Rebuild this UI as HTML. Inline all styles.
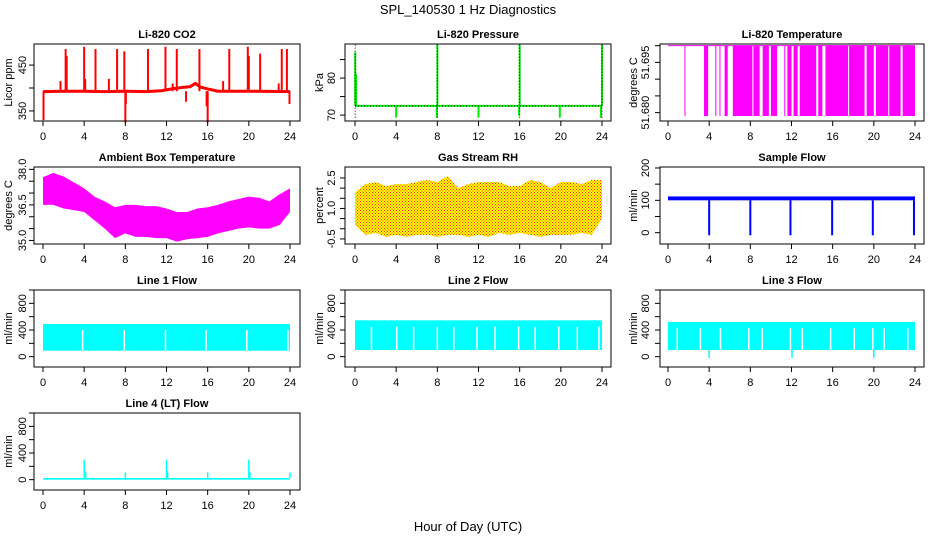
<!DOCTYPE html>
<html><head><meta charset="utf-8"><style>
body{margin:0;background:#fff}
svg{display:block;font-family:"Liberation Sans",Arial,sans-serif}
</style></head><body>
<svg id="c" width="936" height="540" viewBox="0 0 936 540" xmlns="http://www.w3.org/2000/svg">
<defs>
<pattern id="rh" width="3" height="3" patternUnits="userSpaceOnUse"><rect width="3" height="3" fill="#ffff00"/><rect x="0" y="0" width="1" height="1" fill="#ff2020"/><rect x="1.5" y="1.5" width="1" height="1" fill="#ff2020"/></pattern>
</defs>
<text x="468" y="14" text-anchor="middle" font-size="13">SPL_140530  1 Hz Diagnostics</text>
<text x="468" y="531" text-anchor="middle" font-size="13">Hour of Day (UTC)</text>
</svg>
<script>
// ---- data ----
const hours = [0,1,2,3,4,5,6,7,8,9,10,11,12,13,14,15,16,17,18,19,20,21,22,23,24];
const xTicks = [0,4,8,12,16,20,24];
// CO2
const co2BaseT = [0,2,4,6,8,10,11.5,12.5,13.5,14.3,14.8,15.3,16,17,20,24];
const co2BaseV = [392,393,393,392,393,392,394,398,401,403,410,402,398,393,393,392];
const co2SpikeT = [0.05,1.7,2.2,2.3,4.0,4.1,5.1,6.4,7.2,7.9,8.0,8.05,10.2,11.9,12.6,13.0,13.9,15.2,15.9,16.0,17.5,18.1,19.9,20.0,21.1,22.9,23.2,23.7,23.95];
const co2SpikeV = [330,415,485,470,490,420,485,420,485,480,325,365,485,490,410,485,370,485,360,325,415,485,490,470,475,410,485,485,365];
// Pressure
const presBase = 72.5;
const presSpikeT = [0.02,0.1,4.0,7.95,8.0,12.0,15.95,16.0,19.9,23.9,24.0];
const presSpikeV = [87,81,69.3,69.3,89,69.3,69.8,89,69.3,69.3,89];
// Li-820 temperature bar segments [start,end] in hours
const ltSegStart = [1.6,3.5,4.6,5.0,5.5,6.3,8.3,9.2,10.0,11.3,11.6,12.2,12.8,14.6,15.3,17.6,19.3,20.2,21.5,22.8];
const ltSegEnd   = [1.65,3.9,4.7,5.05,5.8,8.2,8.9,9.8,10.6,11.4,12.0,12.6,14.4,15.0,17.5,19.1,20.0,21.4,22.6,24.0];
// Ambient box temperature envelope
const ambUpper = [37.67,37.85,37.7,37.45,37.2,36.85,36.65,36.4,36.5,36.5,36.45,36.45,36.35,36.2,36.2,36.35,36.4,36.5,36.65,36.75,36.85,36.8,36.65,36.95,37.2];
const ambLower = [36.5,36.5,36.35,36.28,36.2,35.85,35.5,35.1,35.3,35.15,35.15,35.1,35.1,34.95,35.05,35.1,35.15,35.3,35.4,35.5,35.55,35.5,35.5,35.65,36.2];
// RH envelope
const rhUpper = [1.8,2.2,2.3,2.1,2.2,2.2,2.3,2.4,2.3,2.6,2.0,2.2,2.3,2.3,2.3,2.1,2.1,2.4,2.3,2.0,2.3,2.3,2.2,2.4,2.4];
const rhLower = [0.2,-0.3,-0.2,-0.4,-0.3,-0.4,-0.3,-0.3,-0.4,-0.3,-0.3,-0.4,-0.3,-0.4,-0.2,-0.3,-0.2,-0.3,-0.4,-0.3,-0.3,-0.3,-0.2,-0.3,0.5];
// Sample flow
const sfLow = 100, sfHigh = 112;
const sfDipT = [4.0,8.0,11.9,15.95,19.9,23.9];
const sfDipV = [-8,-8,-8,-8,-8,-8];
// Line flows
const l1Low = 90, l1High = 490;
const l1GapT = [3.85,7.9,11.9,15.85,19.8,23.8];
const l2Low = 100, l2High = 545;
const l2GapT = [1.6,4.06,5.7,8.0,9.6,11.85,13.6,15.9,17.5,19.8,21.6,23.7];
const l3Low = 100, l3High = 520;
const l3GapT = [0.9,3.15,5.1,7.85,9.15,11.9,13.05,15.8,18.1,19.9,21.0,23.3];
const l3DipT = [4.0,12.05,20.0];
const l3DipV = [-20,-20,-20];
const l4Low = 0, l4High = 25;
const l4SpikeT = [4.0,4.15,8.0,12.0,12.1,16.0,20.0,20.1,24.0];
const l4SpikeV = [300,120,110,300,130,110,300,120,110];

// ---- layout ----
const svg = document.getElementById('c');
const NS = 'http://www.w3.org/2000/svg';
const cols = [{L:34,R:300,x0:43,x24:290,lab:22,tit:8},{L:345,R:611,x0:355,x24:602,lab:331,tit:319},{L:660,R:924,x0:668,x24:915,lab:645,tit:633}];
const rows = [44,167,290,413];
const H = 77;
function mk(tag, attrs, parent){const e=document.createElementNS(NS,tag);for(const k in attrs)e.setAttribute(k,attrs[k]);(parent||svg).appendChild(e);return e;}

function panel(ci, ri, title, ylab, ymin, ymax, ticks, labels, name){
  const c = cols[ci], top = rows[ri], bot = top+H;
  const g = mk('g',{});
  
  
  const xs = h => c.x0 + (c.x24-c.x0)*h/24;
  const ys = v => bot - (v-ymin)/(ymax-ymin)*H;
  const t = mk('text',{x:(c.L+c.R)/2,y:top-6,'text-anchor':'middle','font-size':11,'font-weight':'bold'},g);
  t.textContent = title;
  
  
  const yt = mk('text',{x:0,y:0,'text-anchor':'middle','font-size':11,transform:`translate(${c.tit+4},${(top+bot)/2}) rotate(-90)`},g);
  yt.textContent = ylab;
  
  
  const plot = mk('g',{},g);
  
  
  const box = mk('rect',{x:c.L,y:top,width:c.R-c.L,height:H,fill:'none',stroke:'#000','stroke-width':1},g);
  
  
  mk('line',{x1:xs(0),x2:xs(24),y1:bot,y2:bot,stroke:'#000'},g);
  xTicks.forEach(h=>{
    mk('line',{x1:xs(h),x2:xs(h),y1:bot,y2:bot+5,stroke:'#000'},g);
    const tl = mk('text',{x:xs(h),y:bot+19,'text-anchor':'middle','font-size':11},g);
    tl.textContent = h;
    
    
  });
  mk('line',{x1:c.L,x2:c.L,y1:ys(ticks[0]),y2:ys(ticks[ticks.length-1]),stroke:'#000'},g);
  ticks.forEach((v,i)=>{
    mk('line',{x1:c.L-5,x2:c.L,y1:ys(v),y2:ys(v),stroke:'#000'},g);
    if(labels[i]!==''){
      const tl = mk('text',{x:0,y:0,'text-anchor':'middle','font-size':11,transform:`translate(${c.lab+4},${ys(v)}) rotate(-90)`},g);
      tl.textContent = labels[i];
      
      
    }
  });
  return {g:plot,xs,ys,top,bot};
}
function vline(p,h,v1,v2,col,w){mk('line',{x1:p.xs(h),x2:p.xs(h),y1:p.ys(v1),y2:p.ys(v2),stroke:col,'stroke-width':w||1.3},p.g);}
function band(p,lo,hi,col){mk('rect',{x:p.xs(0),y:p.ys(hi),width:p.xs(24)-p.xs(0),height:p.ys(lo)-p.ys(hi),fill:col},p.g);}

// CO2
let p = panel(0,0,'Li-820 CO2','Licor ppm',328,496,[350,400,450],['350','','450'],'co2');
{ let d=''; co2BaseT.forEach((t,i)=>{d+=(i?'L':'M')+p.xs(t)+' '+p.ys(co2BaseV[i]);});
  mk('path',{d,fill:'none',stroke:'#ff0000','stroke-width':3},p.g);
  co2SpikeT.forEach((t,i)=>vline(p,t,393,co2SpikeV[i],'#ff0000',2)); }

// Pressure
p = panel(1,0,'Li-820 Pressure','kPa',68.4,89.2,[70,75,80,85],['70','','80',''],'pressure');
mk('line',{x1:p.xs(0),x2:p.xs(24),y1:p.ys(presBase),y2:p.ys(presBase),stroke:'#00ee00','stroke-width':2},p.g);
presSpikeT.forEach((t,i)=>vline(p,t,presBase,presSpikeV[i],'#00ee00',2));
mk('line',{x1:p.xs(0),x2:p.xs(24),y1:p.ys(presBase),y2:p.ys(presBase),stroke:'#000','stroke-width':1,'stroke-dasharray':'1 2'},p.g);
[0.02,8,16,24].forEach(t=>mk('line',{x1:p.xs(t),x2:p.xs(t),y1:p.ys(69.3),y2:p.ys(89),stroke:'#000','stroke-width':1,'stroke-dasharray':'1 2'},p.g));

// Li-820 temperature
p = panel(2,0,'Li-820 Temperature','degrees C',51.6775,51.7005,[51.68,51.685,51.69,51.695,51.70],['51.680','','','51.695',''],'li820-temp');
mk('line',{x1:p.xs(0),x2:p.xs(24),y1:p.ys(51.7),y2:p.ys(51.7),stroke:'#ff00ff','stroke-width':1},p.g);
ltSegStart.forEach((s,i)=>mk('rect',{x:p.xs(s),y:p.ys(51.7),width:Math.max(1,p.xs(ltSegEnd[i])-p.xs(s)),height:p.ys(51.679)-p.ys(51.7),fill:'#ff00ff'},p.g));

// Ambient
p = panel(0,1,'Ambient Box Temperature','degrees C',34.85,38.1,[35,35.5,36,36.5,37,37.5,38],['35.0','','','36.5','','','38.0'],'ambient-temp');
{ let d=''; hours.forEach((h,i)=>{d+=(i?'L':'M')+p.xs(h)+' '+p.ys(ambUpper[i]);});
  for(let i=hours.length-1;i>=0;i--) d+='L'+p.xs(hours[i])+' '+p.ys(ambLower[i]);
  mk('path',{d:d+'Z',fill:'#ff00ff'},p.g); }

// RH
p = panel(1,1,'Gas Stream RH','percent',-0.75,3.04,[-0.5,0,0.5,1,1.5,2,2.5],['-0.5','','','1.0','','','2.5'],'rh');
{ let d=''; hours.forEach((h,i)=>{d+=(i?'L':'M')+p.xs(h)+' '+p.ys(rhUpper[i]);});
  for(let i=hours.length-1;i>=0;i--) d+='L'+p.xs(hours[i])+' '+p.ys(rhLower[i]);
  mk('path',{d:d+'Z',fill:'url(#rh)'},p.g); }

// Sample flow
p = panel(2,1,'Sample Flow','ml/min',-35,203,[0,50,100,150,200],['0','','100','','200'],'sample-flow');
band(p,sfLow,sfHigh,'#0000ff');
sfDipT.forEach((t,i)=>vline(p,t,sfLow,sfDipV[i],'#0000ff',2));

// Line 1
p = panel(0,2,'Line 1 Flow','ml/min',-155,1000,[0,200,400,600,800,1000],['0','','400','','800',''],'line1-flow');
band(p,l1Low,l1High,'#00ffff');
l1GapT.forEach(t=>vline(p,t,l1Low,l1High*0.82,'#ffffff',1.5));
// Line 2
p = panel(1,2,'Line 2 Flow','ml/min',-155,1000,[0,200,400,600,800,1000],['0','','400','','800',''],'line2-flow');
band(p,l2Low,l2High,'#00ffff');
l2GapT.forEach(t=>vline(p,t,l2Low,l2High*0.83,'#ffffff',1.5));
// Line 3
p = panel(2,2,'Line 3 Flow','ml/min',-155,1000,[0,200,400,600,800,1000],['0','','400','','800',''],'line3-flow');
band(p,l3Low,l3High,'#00ffff');
l3GapT.forEach(t=>vline(p,t,l3Low,l3High*0.82,'#ffffff',1.5));
l3DipT.forEach((t,i)=>vline(p,t,l3Low,l3DipV[i],'#00ffff',1.5));
// Line 4
p = panel(0,3,'Line 4 (LT) Flow','ml/min',-155,1000,[0,200,400,600,800,1000],['0','','400','','800',''],'line4-flow');
band(p,l4Low,l4High,'#00ffff');
l4SpikeT.forEach((t,i)=>vline(p,t,l4High,l4SpikeV[i],'#00ffff',1.5));
</script>
</body></html>
